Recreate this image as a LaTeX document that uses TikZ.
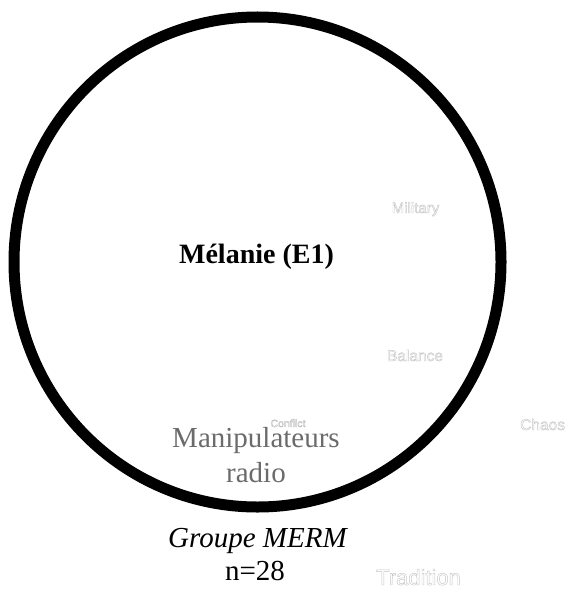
\documentclass[tikz,border=0pt]{standalone}
\usepackage{fontspec}
\setmainfont{Liberation Serif}
\newfontfamily\labelsans{Liberation Sans}
\definecolor{captiongray}{HTML}{6B6B6B}
\definecolor{ghostline}{HTML}{C4C4C4}
% hollow (outlined) lettering via the PDF text render mode
\newcommand{\hollowtext}[1]{\special{pdf:literal direct 1 Tr 0.45 w}#1\special{pdf:literal direct 0 Tr}}
\tikzset{
  ring/.style={line width=11pt, draw=black},
  maintitle/.style={anchor=base, inner sep=0pt, font=\fontsize{28}{32}\selectfont\bfseries},
  caption/.style={anchor=base, inner sep=0pt, align=center, text=captiongray, font=\fontsize{29}{35}\selectfont},
  groupline/.style={anchor=base, inner sep=0pt, font=\fontsize{29}{33}\selectfont},
  ghost/.style={anchor=base, inner sep=0pt, text=ghostline}
}
\begin{document}
\begin{tikzpicture}[x=1pt, y=-1pt]
  \useasboundingbox (0,0) rectangle (565,591);
  % outer ring
  \draw[ring] (257.5,262) ellipse [x radius=243.5, y radius=245];
  % texts inside and below the ring
  \node[maintitle] (name) at (256.5,263) {Mélanie (E1)};
  \node[caption] (role1) at (256,447) {Manipulateurs};
  \node[caption] (role2) at (256,482) {radio};
  \node[groupline] (group) at (257.5,547) {\itshape Groupe MERM};
  \node[groupline] (count) at (255,580) {n=28};
  % faint outlined words
  \node[ghost, font=\labelsans\fontsize{15}{18}\selectfont] (military) at (415.5,213) {\hollowtext{Military}};
  \node[ghost, font=\labelsans\fontsize{15.5}{18}\selectfont] (balance) at (415,361) {\hollowtext{Balance}};
  \node[ghost, font=\labelsans\fontsize{10.5}{13}\selectfont] (conflict) at (288,427) {\hollowtext{Conflict}};
  \node[ghost, font=\labelsans\fontsize{15.5}{18}\selectfont, anchor=base west] (chaos) at (520,430) {\hollowtext{Chaos}};
  \node[ghost, font=\labelsans\fontsize{22}{26}\selectfont] (tradition) at (418.5,585) {\hollowtext{Tradition}};
\end{tikzpicture}
\end{document}
